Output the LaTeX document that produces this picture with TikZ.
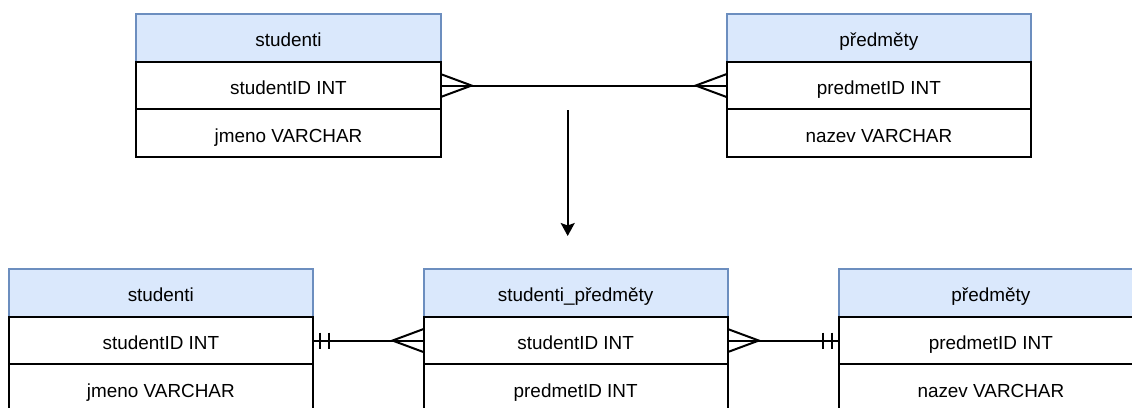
\documentclass[tikz,border=0pt]{standalone}
\usepackage{fontspec}
\setmainfont{Liberation Sans}
\usetikzlibrary{arrows.meta,calc}
\definecolor{hdrfill}{HTML}{DAE8FC}
\definecolor{hdrline}{HTML}{6C8EBF}
\tikzset{
  x=1pt, y=-1pt,
  cell/.style={line width=2pt, minimum width=304.3pt, minimum height=47.7pt,
    anchor=north west, inner sep=0pt, outer sep=0pt,
    text height=17.5pt, text depth=0pt,
    font=\fontsize{18.9}{22}\selectfont},
  hdr/.style={cell, draw=hdrline, fill=hdrfill},
  fld/.style={cell, draw=black, fill=white},
  rel/.style={line width=2pt, draw=black},
  flow/.style={line width=2pt, draw=black,
    -{Stealth[length=13pt, width=14pt, inset=2.5pt]}}
}
% crow's foot (many) at a node side; #2 = +1 to the right, -1 to the left
\newcommand{\crowfoot}[2]{%
  \draw[rel] ($(#1)+(0,-11.5)$) -- ($(#1)+(#2*31,0)$) -- ($(#1)+(0,11.5)$);}
% double bar (exactly one) at a node side
\newcommand{\onlyone}[2]{%
  \draw[rel] ($(#1)+(#2*7,-8)$) -- ($(#1)+(#2*7,8)$);
  \draw[rel] ($(#1)+(#2*16,-8)$) -- ($(#1)+(#2*16,8)$);}
\begin{document}
\begin{tikzpicture}
\useasboundingbox (0,0) rectangle (1132,407);

% ---- before: many-to-many ----
\node[hdr] (s1h) at (136.3,14) {studenti};
\node[fld] (s1id) at (s1h.south west) {studentID INT};
\node[fld] (s1jm) at (s1id.south west) {jmeno VARCHAR};

\node[hdr] (p1h) at (726.7,14) {předměty};
\node[fld] (p1id) at (p1h.south west) {predmetID INT};
\node[fld] (p1nz) at (p1id.south west) {nazev VARCHAR};

\draw[rel] (s1id.east) -- (p1id.west);
\crowfoot{s1id.east}{1}
\crowfoot{p1id.west}{-1}

% ---- transformation ----
\coordinate (a0) at (567.7,110);
\coordinate (a1) at (567.7,236);
\draw[flow] (a0) -- (a1);

% ---- after: junction table ----
\node[hdr] (s2h) at (8.7,269) {studenti};
\node[fld] (s2id) at (s2h.south west) {studentID INT};
\node[fld] (s2jm) at (s2id.south west) {jmeno VARCHAR};

\node[hdr] (jh) at (423.5,269) {studenti\_předměty};
\node[fld] (jsid) at (jh.south west) {studentID INT};
\node[fld] (jpid) at (jsid.south west) {predmetID INT};

\node[hdr] (p2h) at (838.7,269) {předměty};
\node[fld] (p2id) at (p2h.south west) {predmetID INT};
\node[fld] (p2nz) at (p2id.south west) {nazev VARCHAR};

\draw[rel] (s2id.east) -- (jsid.west);
\onlyone{s2id.east}{1}
\crowfoot{jsid.west}{-1}

\draw[rel] (jsid.east) -- (p2id.west);
\crowfoot{jsid.east}{1}
\onlyone{p2id.west}{-1}
\end{tikzpicture}
\end{document}
